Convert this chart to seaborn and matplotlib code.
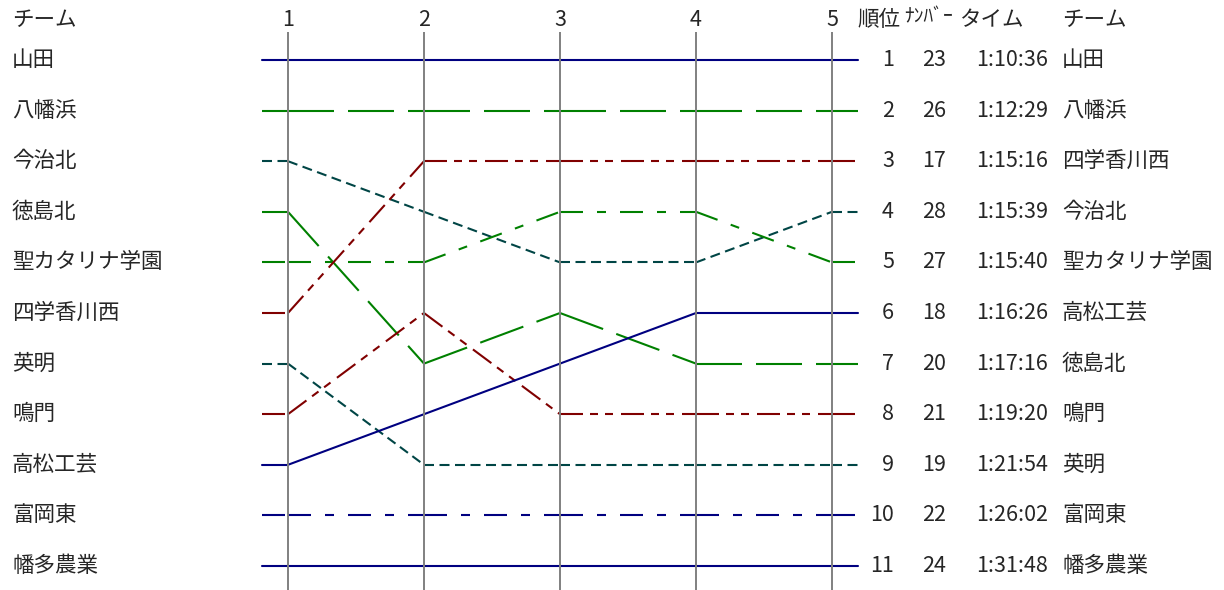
import numpy as np
import pandas as pd
import matplotlib
matplotlib.use("Agg")
import matplotlib.pyplot as plt
import seaborn as sns

# rank of each team after each leg (teams in leg-1 order)
teams = ["山田", "八幡浜", "今治北", "徳島北", "聖カタリナ学園", "四学香川西",
         "英明", "鳴門", "高松工芸", "富岡東", "幡多農業"]
stages = [1, 2, 3, 4, 5]
leg_ranks = [
    [1, 1, 1, 1, 1],
    [2, 2, 2, 2, 2],
    [3, 4, 5, 5, 4],
    [4, 7, 6, 7, 7],
    [5, 5, 4, 4, 5],
    [6, 3, 3, 3, 3],
    [7, 9, 9, 9, 9],
    [8, 6, 8, 8, 8],
    [9, 8, 7, 6, 6],
    [10, 10, 10, 10, 10],
    [11, 11, 11, 11, 11],
]

# final results table
final_rank = [1, 2, 3, 4, 5, 6, 7, 8, 9, 10, 11]
final_no = [23, 26, 17, 28, 27, 18, 20, 21, 19, 22, 24]
final_time = ["1:10:36", "1:12:29", "1:15:16", "1:15:39", "1:15:40", "1:16:26",
              "1:17:16", "1:19:20", "1:21:54", "1:26:02", "1:31:48"]
final_team = ["山田", "八幡浜", "四学香川西", "今治北", "聖カタリナ学園", "高松工芸",
              "徳島北", "鳴門", "英明", "富岡東", "幡多農業"]

NAVY, GREEN, RED, TEAL = "#000080", "#008000", "#800000", "#004545"
LW = 1.5


def dpx(*seq):
    # dash lengths given in pixels -> units of linewidth
    return tuple(s * 0.72 / LW for s in seq)


solid = ""
longdash = dpx(46, 14)
dashdot = dpx(23, 14, 9, 14)
dashdotdot = dpx(23, 7, 8, 7, 8, 8)
short = dpx(10, 5.5)

colors = {"山田": NAVY, "八幡浜": GREEN, "今治北": TEAL, "徳島北": GREEN,
          "聖カタリナ学園": GREEN, "四学香川西": RED, "英明": TEAL, "鳴門": RED,
          "高松工芸": NAVY, "富岡東": NAVY, "幡多農業": NAVY}
dashes = {"山田": solid, "八幡浜": longdash, "今治北": short, "徳島北": longdash,
          "聖カタリナ学園": dashdot, "四学香川西": dashdotdot, "英明": short,
          "鳴門": dashdotdot, "高松工芸": solid, "富岡東": dashdot, "幡多農業": solid}

# each leg drawn as its own piece so the dash pattern restarts at every post
stub = 26 / 136
rows = []
for t, r in zip(teams, leg_ranks):
    xs = [stages[0] - stub] + stages + [stages[-1] + stub]
    ys = [r[0]] + r + [r[-1]]
    for k in range(len(xs) - 1):
        rows.append({"team": t, "seg": k, "x": xs[k], "rank": ys[k]})
        rows.append({"team": t, "seg": k, "x": xs[k + 1], "rank": ys[k + 1]})
df = pd.DataFrame(rows)

sns.set_theme(style="white")
plt.rcParams["font.family"] = ["Noto Sans CJK JP", "DejaVu Sans"]

fig = plt.figure(figsize=(12.24, 5.9), dpi=100)
ax = fig.add_axes([0, 0, 1, 1])


def px(v):
    return 1 + (v - 288) / 136


ax.set_xlim(px(0), px(1224))
ax.set_ylim(1 + (590 - 60) / 50.6, 1 - 60 / 50.6)

sns.lineplot(data=df, x="x", y="rank", hue="team", style="team", units="seg",
             estimator=None, sort=False, palette=colors, dashes=dashes,
             linewidth=LW, legend=False, ax=ax)

ax.vlines(stages, 0.45, 11.6, color="#808080", lw=1.4, zorder=3)

fs = 15.5
hy = 1 + (20 - 60) / 50.6
ax.text(px(12), hy, "チーム", fontsize=fs, va="center", ha="left")
for s in stages:
    ax.text(s, hy, str(s), fontsize=fs, va="center", ha="center")
ax.text(px(857), hy, "順位", fontsize=fs, va="center", ha="left")
ax.text(px(904), hy - 0.06, "ﾅﾝﾊﾞｰ", fontsize=14, va="center", ha="left")
ax.text(px(959), hy, "タイム", fontsize=fs, va="center", ha="left")
ax.text(px(1062), hy, "チーム", fontsize=fs, va="center", ha="left")

for i, t in enumerate(teams):
    ax.text(px(12), leg_ranks[i][0], t, fontsize=fs, va="center", ha="left")

for rk, no, tm, t in zip(final_rank, final_no, final_time, final_team):
    ax.text(px(894), rk, str(rk), fontsize=fs, va="center", ha="right")
    ax.text(px(946), rk, str(no), fontsize=fs, va="center", ha="right")
    ax.text(px(1048), rk, tm, fontsize=fs, va="center", ha="right")
    ax.text(px(1062), rk, t, fontsize=fs, va="center", ha="left")

ax.axis("off")
fig.savefig("out.png", dpi=100)
